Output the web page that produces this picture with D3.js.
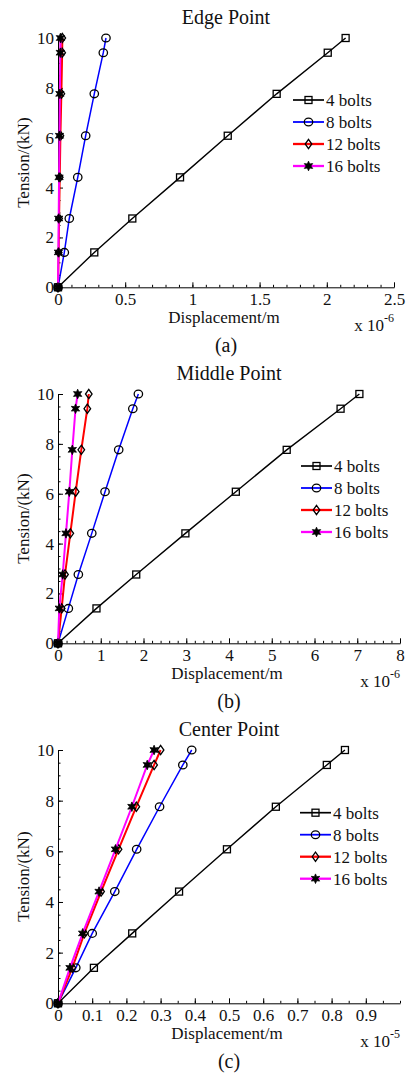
<!DOCTYPE html>
<html>
<head>
<meta charset="utf-8">
<script src="https://cdn.jsdelivr.net/npm/d3@7"></script>
<style>
  body { margin: 0; background: #fff; }
</style>
</head>
<body>
<script>
'use strict';

// tension levels (kN), same for every curve
const tension = [0, 1.4, 2.76, 4.41, 6.08, 7.76, 9.41, 10];
const seriesNames = ['4 bolts', '8 bolts', '12 bolts', '16 bolts'];

// displacements, edge point (x 10^-6 m)
const edge4 = [0, 0.27, 0.553, 0.908, 1.263, 1.627, 2.007, 2.14];
const edge8 = [0, 0.047, 0.084, 0.147, 0.206, 0.27, 0.337, 0.357];
const edge12 = [0, 0.005, 0.008, 0.013, 0.018, 0.025, 0.031, 0.032];
const edge16 = [0, 0.003, 0.005, 0.008, 0.011, 0.014, 0.017, 0.018];

// displacements, middle point (x 10^-6 m)
const middle4 = [0, 0.90, 1.83, 2.98, 4.16, 5.35, 6.61, 7.05];
const middle8 = [0, 0.242, 0.476, 0.79, 1.10, 1.42, 1.75, 1.88];
const middle12 = [0, 0.086, 0.164, 0.288, 0.414, 0.545, 0.686, 0.72];
const middle16 = [0, 0.03, 0.11, 0.187, 0.265, 0.335, 0.41, 0.46];

// displacements, center point (x 10^-5 m)
const center4 = [0, 0.105, 0.217, 0.354, 0.494, 0.637, 0.786, 0.839];
const center8 = [0, 0.052, 0.10, 0.166, 0.230, 0.297, 0.365, 0.391];
const center12 = [0, 0.042, 0.077, 0.126, 0.177, 0.229, 0.281, 0.300];
const center16 = [0, 0.035, 0.072, 0.120, 0.168, 0.216, 0.261, 0.281];

// tick values and labels
const yTicks = [0, 2, 4, 6, 8, 10];
const edgeTicks = [0, 0.5, 1, 1.5, 2, 2.5];
const edgeTickLabels = ['0', '0.5', '1', '1.5', '2', '2.5'];
const middleTicks = [0, 1, 2, 3, 4, 5, 6, 7, 8];
const middleTickLabels = ['0', '1', '2', '3', '4', '5', '6', '7', '8'];
const centerTicks = [0, 0.1, 0.2, 0.3, 0.4, 0.5, 0.6, 0.7, 0.8, 0.9];
const centerTickLabels = ['0', '0.1', '0.2', '0.3', '0.4', '0.5', '0.6', '0.7', '0.8', '0.9'];

(function() {

  let svg = "";
  const font = '"Liberation Serif", "DejaVu Serif", "Times New Roman", serif';

  const colors = ['#000000', '#0000ff', '#ff0000', '#ff00ff'];
  const widths = [1.4, 1.5, 2, 2];
  const markers = ['square', 'circle', 'diamond', 'hexagram'];

  // layout of the three panels
  const panels = [
    { title: 'Edge Point', letter: '(a)', series: [edge4, edge8, edge12, edge16],
      ticks: edgeTicks, tickLabels: edgeTickLabels, xMax: 2.5, minorStep: 0.1, exp: '-6',
      left: 58, right: 394, top: 38, bottom: 287.3, legendX: 293, legendY: 100 },
    { title: 'Middle Point', letter: '(b)', series: [middle4, middle8, middle12, middle16],
      ticks: middleTicks, tickLabels: middleTickLabels, xMax: 8, minorStep: 0.2, exp: '-6',
      left: 58, right: 400, top: 394, bottom: 643.3, legendX: 301, legendY: 466 },
    { title: 'Center Point', letter: '(c)', series: [center4, center8, center12, center16],
      ticks: centerTicks, tickLabels: centerTickLabels, xMax: 1, minorStep: 0.05, exp: '-5',
      left: 58, right: 400, top: 750, bottom: 1003.3, legendX: 300, legendY: 812.7 }
  ];

  window.onload = function() {
    svg = d3.select('body')
      .append('svg')
      .attr('width', 409)
      .attr('height', 1077)
      .attr('font-family', font);

    panels.forEach(drawPanel);

    // make every text use the serif face
    svg.selectAll('text')
      .style('font-family', font)
      .attr('fill', '#111');
  };

  // draw one marker of the given kind at (x, y)
  function drawMarker(g, kind, x, y) {
    if (kind === 'square') {
      g.append('rect')
        .attr('x', x - 3.5).attr('y', y - 3.5)
        .attr('width', 7).attr('height', 7)
        .attr('fill', 'none').attr('stroke', '#000').attr('stroke-width', 1.3);
    } else if (kind === 'circle') {
      g.append('ellipse')
        .attr('cx', x).attr('cy', y).attr('rx', 4.2).attr('ry', 3.9)
        .attr('fill', 'none').attr('stroke', '#000').attr('stroke-width', 1.3);
    } else if (kind === 'diamond') {
      let pts = [[x, y - 4.6], [x + 3.3, y], [x, y + 4.6], [x - 3.3, y]];
      g.append('path')
        .attr('d', 'M' + pts.join('L') + 'Z')
        .attr('fill', 'none').attr('stroke', '#000').attr('stroke-width', 1.3);
    } else {
      // six pointed star
      let pts = d3.range(12).map((i) => {
        let a = -Math.PI / 2 + i * Math.PI / 6;
        let r = i % 2 === 0 ? 4.8 : 2.3;
        return [x + r * Math.cos(a), y + r * Math.sin(a)];
      });
      g.append('path')
        .attr('d', 'M' + pts.join('L') + 'Z')
        .attr('fill', '#000').attr('stroke', '#000').attr('stroke-width', 0.8);
    }
  }

  function drawPanel(p) {
    let g = svg.append('g');

    let xScale = d3.scaleLinear().domain([0, p.xMax]).range([p.left, p.right]);
    let yScale = d3.scaleLinear().domain([0, 10]).range([p.bottom, p.top]);

    // minor ticks first
    g.append('g')
      .attr('transform', 'translate(0,' + p.bottom + ')')
      .call(d3.axisBottom(xScale)
        .tickValues(d3.range(0, p.xMax + 1e-9, p.minorStep))
        .tickFormat('')
        .tickSizeInner(-2.5).tickSizeOuter(0))
      .call((a) => a.select('.domain').remove());

    g.append('g')
      .attr('transform', 'translate(' + p.left + ',0)')
      .call(d3.axisLeft(yScale)
        .tickValues(d3.range(0, 10.01, 0.5))
        .tickFormat('')
        .tickSizeInner(-2.5).tickSizeOuter(0))
      .call((a) => a.select('.domain').remove());

    // major x axis
    let xAxis = g.append('g')
      .attr('transform', 'translate(0,' + p.bottom + ')')
      .call(d3.axisBottom(xScale)
        .tickValues(p.ticks)
        .tickFormat((d) => p.tickLabels[p.ticks.indexOf(d)])
        .tickSizeInner(-5).tickSizeOuter(0).tickPadding(6));

    // major y axis
    let yAxis = g.append('g')
      .attr('transform', 'translate(' + p.left + ',0)')
      .call(d3.axisLeft(yScale)
        .tickValues(yTicks)
        .tickSizeInner(-5).tickSizeOuter(0).tickPadding(4));

    [xAxis, yAxis].forEach((a) => {
      a.selectAll('text').style('font-size', '17px');
      a.select('.domain').attr('stroke', '#000');
    });
    g.selectAll('.tick line').attr('stroke', '#000');

    // curves with markers
    let line = d3.line()
      .x((d) => xScale(d[0]))
      .y((d) => yScale(d[1]));

    p.series.forEach((disp, s) => {
      let pts = disp.map((d, i) => [d, tension[i]]);
      g.append('path')
        .attr('d', line(pts))
        .attr('fill', 'none')
        .attr('stroke', colors[s])
        .attr('stroke-width', widths[s]);
      let mg = g.append('g');
      pts.forEach((d) => drawMarker(mg, markers[s], xScale(d[0]), yScale(d[1])));
    });

    // legend
    seriesNames.forEach((name, s) => {
      let y = p.legendY + s * 22;
      g.append('line')
        .attr('x1', p.legendX).attr('x2', p.legendX + 31)
        .attr('y1', y).attr('y2', y)
        .attr('stroke', colors[s]).attr('stroke-width', widths[s] + 0.3);
      drawMarker(g, markers[s], p.legendX + 15.5, y);
      g.append('text')
        .attr('x', p.legendX + 33)
        .attr('y', y + 6)
        .style('font-size', '17px')
        .text(name);
    });

    let mid = (p.left + p.right) / 2;

    // title
    g.append('text')
      .attr('x', mid)
      .attr('y', p.top - 14)
      .attr('text-anchor', 'middle')
      .style('font-size', '20px')
      .text(p.title);

    // axis labels
    g.append('text')
      .attr('x', mid - 2)
      .attr('y', p.bottom + 36)
      .attr('text-anchor', 'middle')
      .style('font-size', '17px')
      .text('Displacement/m');

    g.append('text')
      .attr('transform', 'translate(29,' + ((p.top + p.bottom) / 2) + ')rotate(-90)')
      .attr('text-anchor', 'middle')
      .style('font-size', '17px')
      .text('Tension/(kN)');

    // exponent note
    let ex = g.append('text')
      .attr('x', p.right)
      .attr('y', p.bottom + 44)
      .attr('text-anchor', 'end')
      .style('font-size', '17px');
    ex.append('tspan').text('x 10');
    ex.append('tspan').attr('dy', -9).style('font-size', '12px').text(p.exp);

    // panel letter
    g.append('text')
      .attr('x', mid)
      .attr('y', p.bottom + 65)
      .attr('text-anchor', 'middle')
      .style('font-size', '20px')
      .text(p.letter);
  }

})();
</script>
</body>
</html>
